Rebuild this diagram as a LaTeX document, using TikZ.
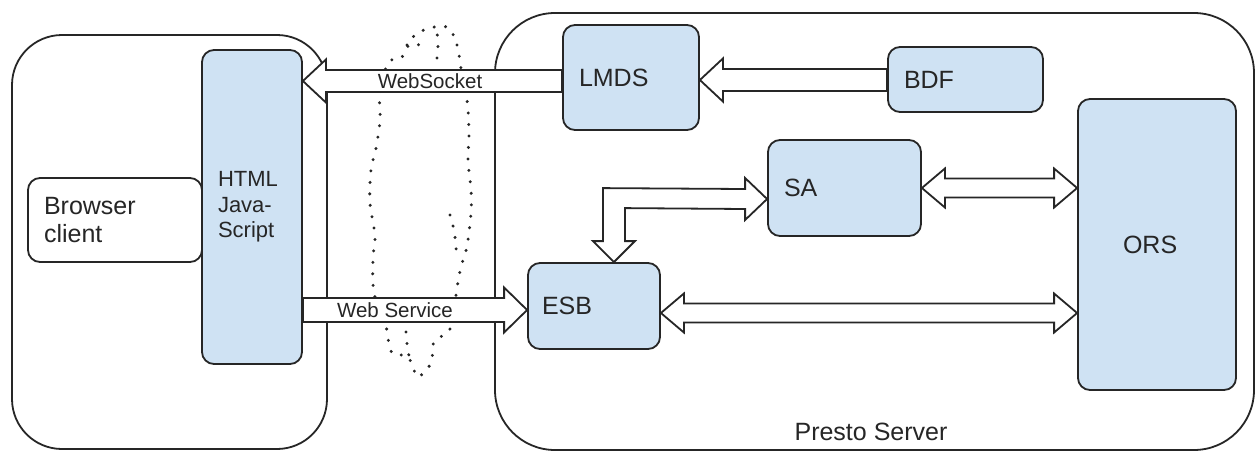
\documentclass[tikz,border=0pt]{standalone}
\usepackage{fontspec}
\setmainfont{Liberation Sans}
\usetikzlibrary{calc}
\definecolor{boxblue}{HTML}{CFE2F3}
\definecolor{ink}{HTML}{262626}
\begin{document}
\begin{tikzpicture}[x=1pt,y=-1pt,
  container/.style={draw=ink, line width=1.8pt, fill=white, inner sep=0pt},
  box/.style={draw=ink, line width=1.8pt, fill=boxblue, rounded corners=12pt,
    inner xsep=16pt, inner ysep=0pt, align=left, text=ink,
    font=\fontsize{25}{28}\selectfont},
  blockarrow/.style={draw=ink, line width=1.8pt, fill=white, line join=miter},
  cloudline/.style={draw=ink, line width=3.3pt, line cap=round, dash pattern=on 0pt off 11.5pt},
  lbl/.style={font=\fontsize{20.5}{22}\selectfont, text=ink, inner sep=0pt}]
\useasboundingbox (0,0) rectangle (1256,453);

% containers
\node[container, rounded corners=50pt, minimum width=315pt, minimum height=414pt] (client) at (169.5,242) {};
\node[container, rounded corners=60pt, minimum width=759pt, minimum height=437pt] (server) at (874.5,231.5) {};
\node[font=\fontsize{25}{28}\selectfont, text=ink, inner sep=0pt] (presto) at (871,432) {Presto Server};

% dotted boundary
\draw[cloudline] plot[smooth cycle, tension=0.6] coordinates {(447,27) (457,45) (462,75) (467,100) (469,133) (468,160) (471,190) (471,213) (467,246) (461,267) (457,288) (452,322) (447,333) (434,342) (431,363) (418,377) (413,367) (407,356) (393,354) (389,344) (385,322) (374,293) (373,258) (375,236) (370,203) (371,170) (376,148) (380,120) (380,95) (388,63) (402,57) (413,37) (427,29)};
\draw[cloudline] plot[smooth] coordinates {(437,58) (438,45) (437,32)};
\draw[cloudline] plot[smooth] coordinates {(407,45) (420,45) (422,52)};
\draw[cloudline] plot[smooth] coordinates {(450,215) (453,226) (455,237) (457,259)};
\draw[cloudline] plot[smooth] coordinates {(406,332) (407,344) (409,356)};

% boxes
\node[box, fill=white, minimum width=174pt, minimum height=84pt, text width=142pt] (browser) at (115,220) {Browser\\client};
\node[box, minimum width=100pt, minimum height=314pt, text width=68pt, font=\fontsize{22}{25.5}\selectfont] (html) at (252,207) {HTML\\Java-\\Script};
\node[box, minimum width=136pt, minimum height=105pt, text width=104pt] (lmds) at (631,77.5) {LMDS};
\node[box, minimum width=155pt, minimum height=65pt, text width=123pt] (bdf) at (965.5,79.5) {BDF};
\node[box, minimum width=153pt, minimum height=96pt, text width=121pt] (sa) at (844.5,188) {SA};
\node[box, minimum width=132pt, minimum height=86pt, text width=104pt, inner xsep=14pt] (esb) at (594,306) {ESB};
\node[box, minimum width=158pt, minimum height=291pt, text width=68pt, inner xsep=45pt] (ors) at (1157,244.5) {ORS};

% WebSocket: LMDS -> HTML
\draw[blockarrow] (html.east|-0,81) -- ($(html.east|-0,81)+(23,-21.5)$) -- ($(html.east|-0,81)+(23,-11)$)
  -- (lmds.west|-0,70) -- (lmds.west|-0,92) -- ($(html.east|-0,81)+(23,11)$) -- ($(html.east|-0,81)+(23,21.5)$) -- cycle;
% BDF -> LMDS
\draw[blockarrow] (lmds.east|-0,80) -- ($(lmds.east|-0,80)+(23,-21.5)$) -- ($(lmds.east|-0,80)+(23,-11)$)
  -- (bdf.west|-0,69) -- (bdf.west|-0,91) -- ($(lmds.east|-0,80)+(23,11)$) -- ($(lmds.east|-0,80)+(23,21.5)$) -- cycle;
% Web Service: HTML -> ESB
\draw[blockarrow] (esb.west|-0,310) -- ($(esb.west|-0,310)+(-23,-22.5)$) -- ($(esb.west|-0,310)+(-23,-12)$)
  -- (html.east|-0,298) -- (html.east|-0,322) -- ($(esb.west|-0,310)+(-23,12)$) -- ($(esb.west|-0,310)+(-23,22.5)$) -- cycle;
% SA <-> ORS
\draw[blockarrow] (sa.east|-0,188) -- ++(23,-19.5) -- ++(0,10) -- ($(ors.west|-0,188)+(-23,-9.5)$) -- ++(0,-10)
  -- (ors.west|-0,188) -- ++(-23,19.5) -- ++(0,-10) -- ($(sa.east|-0,188)+(23,9.5)$) -- ++(0,10) -- cycle;
% ESB <-> ORS
\draw[blockarrow] (esb.east|-0,313) -- ++(23,-19.5) -- ++(0,10) -- ($(ors.west|-0,313)+(-23,-9.5)$) -- ++(0,-10)
  -- (ors.west|-0,313) -- ++(-23,19.5) -- ++(0,-10) -- ($(esb.east|-0,313)+(23,9.5)$) -- ++(0,10) -- cycle;
% SA <-> ESB (elbow)
\coordinate (satip) at (sa.west|-0,199);
\coordinate (esbtip) at ($(esb.north east)+(-47,0)$);
\draw[blockarrow] (satip) -- ++(-22,-21) -- ++(0,11) -- ($(esbtip)+(-11,-74)$) -- ($(esbtip)+(-11,-21)$) -- ++(-10,0)
  -- (esbtip) -- ++(21,-21) -- ++(-10,0) -- ($(esbtip)+(11,-54)$) -- ($(satip)+(-22,10)$) -- ++(0,11) -- cycle;

% arrow labels
\node[lbl] (wslabel) at (430,81) {WebSocket};
\node[lbl] (wsvlabel) at (395,310) {Web Service};
\end{tikzpicture}
\end{document}
